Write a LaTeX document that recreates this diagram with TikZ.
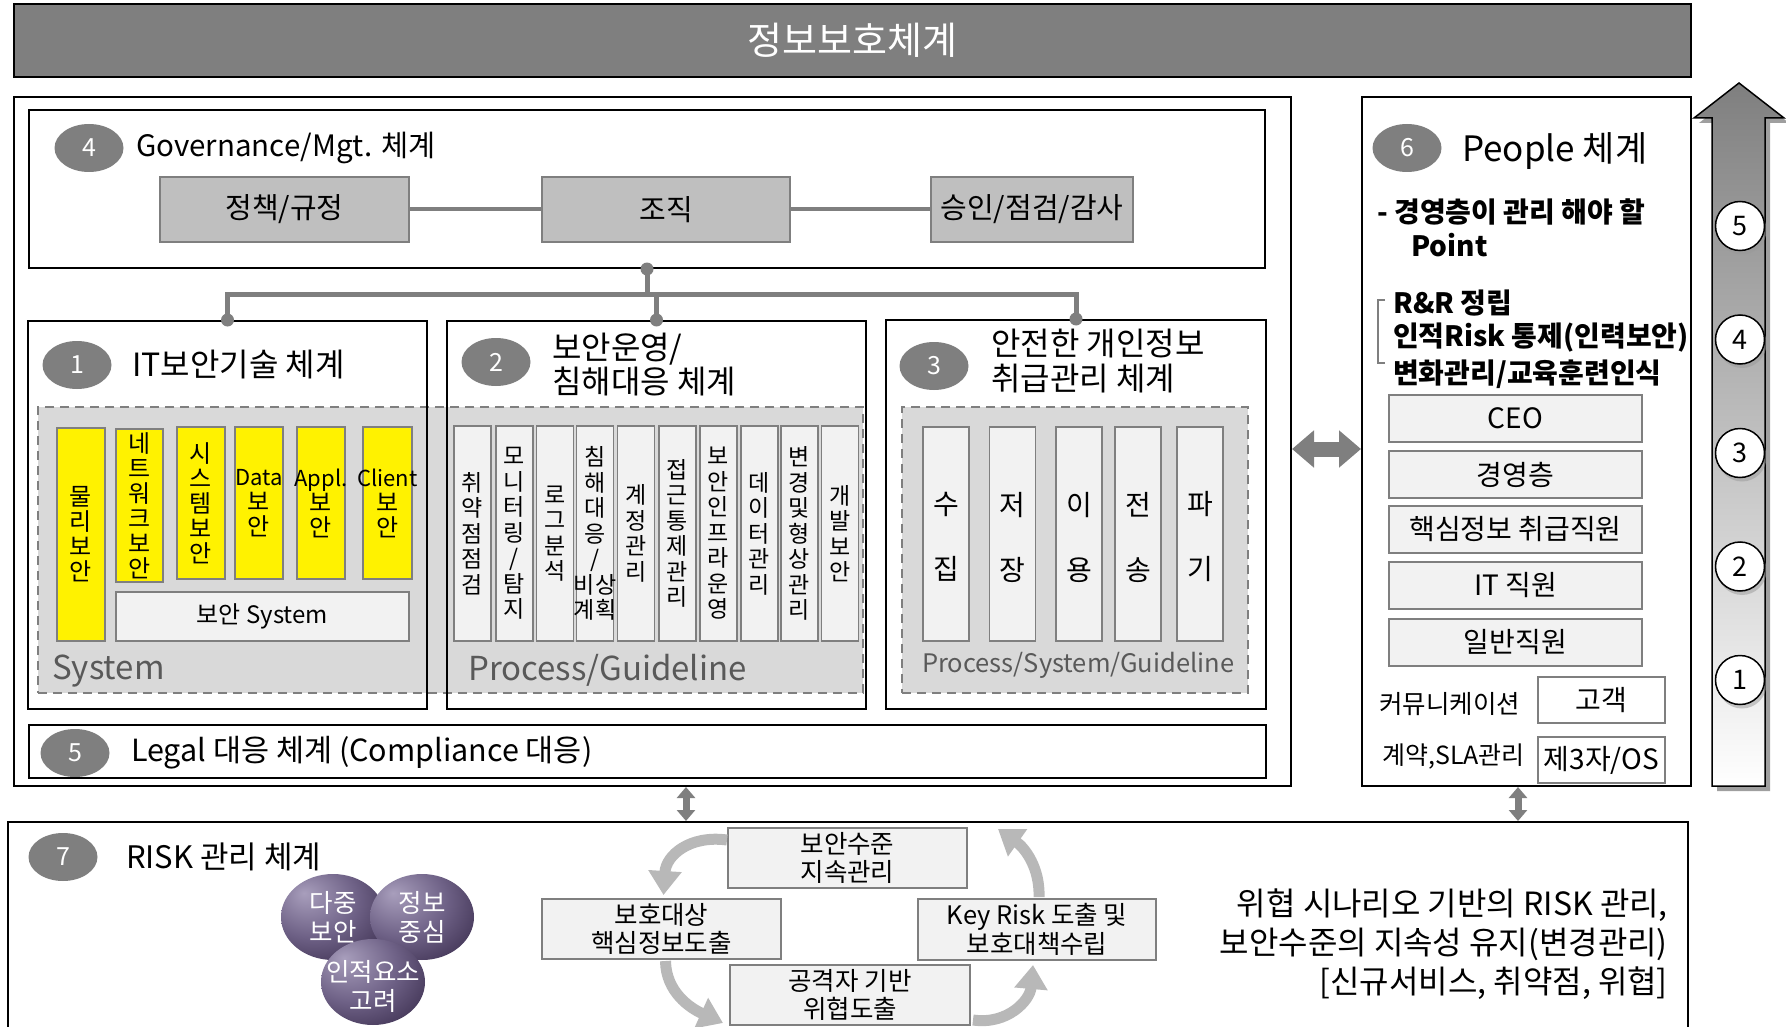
\documentclass[tikz,border=0pt]{standalone}
\usepackage{fontspec}
\setmainfont{Noto Sans CJK KR}
\usetikzlibrary{shapes.geometric,arrows.meta,calc,shadows}
\definecolor{gA}{HTML}{7F7F7F}
\definecolor{gB}{HTML}{BFBFBF}
\definecolor{gC}{HTML}{D9D9D9}
\definecolor{gD}{HTML}{F2F2F2}
\definecolor{gT}{HTML}{595959}
\definecolor{gArr}{HTML}{B8B8B8}
\definecolor{sphA}{HTML}{A89EBC}
\definecolor{sphB}{HTML}{6E6186}
\definecolor{sphC}{HTML}{3A2D4D}
\pgfdeclareradialshading{sph}{\pgfpoint{-14bp}{14bp}}{color(0bp)=(sphA); color(22bp)=(sphB); color(42bp)=(sphC); color(80bp)=(sphC)}
\newcommand\fsz[2]{\fontsize{#1}{#2}\selectfont}
\newcommand\lat[1]{{\fsz{22}{25}#1}}
\tikzset{
  num/.style={ellipse, fill=gA, text=white, minimum width=69pt, minimum height=48pt, inner sep=0pt, font=\fsz{25}{30}},
  hdr/.style={anchor=west, inner sep=0pt, font=\fsz{31}{35}},
  frame/.style={draw=black, line width=2pt, inner sep=0pt},
  gbox/.style={draw=gA, fill=gB, line width=2pt, inner sep=0pt, font=\fsz{29}{32}},
  ycol/.style={draw=gA, fill=yellow, line width=1.5pt, inner sep=0pt},
  gcol/.style={draw=gA, fill=gD, line width=1.5pt, inner sep=0pt},
  ytxt/.style={align=center, inner sep=0pt, font=\fsz{24}{25}},
  ptxt/.style={align=center, inner sep=0pt, font=\fsz{23}{25.5}},
  stxt/.style={align=center, inner sep=0pt, font=\fsz{28}{65}},
  region/.style={draw=gA, fill=gC, dash pattern=on 9pt off 6pt, line width=2.5pt, inner sep=0pt},
  pbox/.style={draw=gA, fill=gD, line width=2pt, inner sep=0pt, font=\fsz{28}{30}},
  wbox/.style={draw=gA, fill=white, line width=2pt, inner sep=0pt, font=\fsz{28}{30}},
  cbox/.style={draw=gA, fill=gD, line width=2pt, inner sep=0pt, align=center, font=\fsz{25.5}{28.5}},
  conn/.style={draw=gA, line width=5pt},
  gline/.style={draw=gA, line width=4pt},
  cdot/.style={circle, fill=gA, minimum size=13pt, inner sep=0pt},
  acirc/.style={circle, draw=black, fill=white, line width=1.5pt, minimum size=49pt, inner sep=0pt, font=\fsz{27}{30}, drop shadow={shadow xshift=2pt, shadow yshift=-4pt, fill=gray!80}},
  sphere/.style={ellipse, minimum width=104pt, minimum height=86pt, shading=sph, inner sep=0pt},
  sptxt/.style={align=center, text=white, inner sep=0pt, font=\fsz{25.5}{29}},
  carrow/.style={draw=gArr, line width=11pt, -{Triangle[width=32pt,length=24pt]}},
  hdbl/.style={draw=gA, line width=15pt, {Triangle[width=36pt,length=22pt]}-{Triangle[width=36pt,length=22pt]}},
  vdbl/.style={draw=gA, line width=7pt, {Triangle[width=18pt,length=11pt]}-{Triangle[width=18pt,length=11pt]}},
  bold/.style={anchor=west, inner sep=0pt, font=\fsz{28}{30}\bfseries}
}
\begin{document}
\begin{tikzpicture}[x=1pt,y=-1pt]
\useasboundingbox (0,0) rectangle (1786,1027);
\clip (0,0) rectangle (1786,1027);

% title bar
\node[frame, fill=gA, minimum width=1677pt, minimum height=73pt] (title) at (852.5,40.5) {};
\node[text=white, font=\fsz{38}{42}] at (title.center) {정보보호체계};

% outer left frame
\node[frame, minimum width=1277pt, minimum height=689pt] (outer) at (652.5,441.5) {};

% governance
\node[frame, minimum width=1236pt, minimum height=158pt] (gov) at (647,189) {};
\node[num] (n4) at (89,148) {4};
\node[hdr, font=\fsz{29.5}{34}] at (136,148) {Governance/Mgt. 체계};
\node[gbox, minimum width=249pt, minimum height=65pt] (g1) at (284.5,209.5) {정책/규정};
\node[gbox, minimum width=248pt, minimum height=65pt] (g2) at (666,209.5) {조직};
\node[gbox, minimum width=202pt, minimum height=65pt] (g3) at (1032,209.5) {승인/점검/감사};
\draw[gline] (g1) -- (g2);
\draw[gline] (g2) -- (g3);

% dashed regions
\node[region, minimum width=825pt, minimum height=286pt] (r12) at (450.5,550) {};
\node[region, minimum width=346pt, minimum height=286pt] (r3) at (1075,550) {};

% three boxes
\node[frame, minimum width=399pt, minimum height=388pt] (b1) at (227.5,515) {};
\node[frame, minimum width=419pt, minimum height=388pt] (b2) at (656.5,515) {};
\node[frame, minimum width=380pt, minimum height=389pt] (b3) at (1076,514.5) {};

% tree connector
\coordinate (bus) at (647,294);
\draw[conn] (gov.south) -- (gov.south |- bus);
\draw[conn] (b1.north) |- (bus) -| (b3.north);
\draw[conn] (b2.north) -- (b2.north |- bus);
\node[cdot] at (gov.south) {};
\node[cdot] at (b1.north) {};
\node[cdot] at (b2.north) {};
\node[cdot] at (b3.north) {};

% box 1
\node[num] (n1) at (77,365) {1};
\node[hdr, font=\fsz{32}{35}] at (132,365) {IT보안기술 체계};
\node[ycol, minimum width=48pt, minimum height=213pt] (y1) at (81,534.5) {};
\node[ycol, minimum width=47pt, minimum height=153pt] (y2) at (139.5,505.5) {};
\node[ycol, minimum width=48pt, minimum height=152pt] (y3) at (201,503) {};
\node[ycol, minimum width=48pt, minimum height=152pt] (y4) at (259,503) {};
\node[ycol, minimum width=48pt, minimum height=152pt] (y5) at (321,503) {};
\node[ycol, minimum width=49pt, minimum height=152pt] (y6) at (387.5,503) {};
\node[ytxt] at (y1.center) {물\\리\\보\\안};
\node[ytxt] at (y2.center) {네\\트\\워\\크\\보\\안};
\node[ytxt] at (y3.center) {시\\스\\템\\보\\안};
\node[ytxt] at (y4.center) {\lat{Data}\\보\\안};
\node[ytxt] at (y5.center) {\lat{Appl.}\\보\\안};
\node[ytxt] at (y6.center) {\lat{Client}\\보\\안};
\node[gcol, minimum width=293pt, minimum height=49pt, font=\fsz{24}{28}] (bs) at (262.5,616.5) {보안 System};
\node[anchor=west, text=gT, inner sep=0pt, font=\fsz{33}{38}] at (52,671) {System};

% box 2
\node[num] (n2) at (496,362) {2};
\node[hdr, align=left, font=\fsz{32}{34}] at (552,365) {보안운영/\\침해대응 체계};
\foreach \nm/\cx/\tx in {p1/472.5/{취\\약\\점\\점\\검}, p2/514.5/{모\\니\\터\\링\\/\\탐\\지}, p3/555/{로\\그\\분\\석}, p4/595/{침\\해\\대\\응\\/\\비상\\계획}, p5/636/{계\\정\\관\\리}, p6/677.5/{접\\근\\통\\제\\관\\리}, p7/718.5/{보\\안\\인\\프\\라\\운\\영}, p8/759.5/{데\\이\\터\\관\\리}, p9/799.5/{변\\경\\및\\형\\상\\관\\리}, p10/840/{개\\발\\보\\안}}{
  \node[gcol, minimum width=37pt, minimum height=215pt] (\nm) at (\cx,533.5) {};
  \node[ptxt] at (\nm.center) {\tx};
}
\node[anchor=west, text=gT, inner sep=0pt, font=\fsz{33}{38}] at (468,670) {Process/Guideline};

% box 3
\node[num] (n3) at (934,366) {3};
\node[hdr, align=left, font=\fsz{32}{35}] at (991,361) {안전한 개인정보\\취급관리 체계};
\foreach \nm/\cx/\tx in {s1/946/{수\\집}, s2/1012.5/{저\\장}, s3/1079/{이\\용}, s4/1138/{전\\송}, s5/1200/{파\\기}}{
  \node[gcol, minimum width=46pt, minimum height=214pt] (\nm) at (\cx,534) {};
  \node[stxt] at ($(\nm.center)+(0,3)$) {\tx};
}
\node[anchor=west, text=gT, inner sep=0pt, font=\fsz{25.5}{30}] at (922,665) {Process/System/Guideline};

% legal
\node[frame, minimum width=1237pt, minimum height=53pt] (legal) at (647.5,751.5) {};
\node[num] (n5) at (75,753) {5};
\node[hdr, font=\fsz{30.5}{34}] at (131,753) {Legal 대응 체계 (Compliance 대응)};

% people
\node[frame, minimum width=329pt, minimum height=689pt] (people) at (1526.5,441.5) {};
\node[num] (n6) at (1407,148) {6};
\node[hdr, font=\fsz{35}{40}] at (1462,151) {People 체계};
\node[bold] at (1377,212) {- 경영층이 관리 해야 할};
\node[bold] at (1411,245) {Point};
\draw[gA, line width=2.5pt] (1385,300) -- (1378,300) -- (1378,363) -- (1385,363);
\node[bold] at (1393,303) {R\&R 정립};
\node[bold] at (1393,338) {인적Risk 통제(인력보안)};
\node[bold] at (1393,374) {변화관리/교육훈련인식};
\node[pbox, minimum width=253pt, minimum height=47pt] (ceo) at (1515.5,418.5) {CEO};
\node[pbox, minimum width=253pt, minimum height=47pt] (mgmt) at (1515.5,474.5) {경영층};
\node[pbox, minimum width=253pt, minimum height=47pt] (core) at (1515.5,529.5) {핵심정보 취급직원};
\node[pbox, minimum width=253pt, minimum height=47pt] (itst) at (1515.5,585) {IT 직원};
\node[pbox, minimum width=253pt, minimum height=47pt] (gen) at (1515.5,642.5) {일반직원};
\node[anchor=west, inner sep=0pt, font=\fsz{25.5}{28}] at (1379,704) {커뮤니케이션};
\node[anchor=west, inner sep=0pt, font=\fsz{25}{28}] at (1382,757) {계약,SLA관리};
\node[wbox, minimum width=127pt, minimum height=46pt] (cust) at (1601.5,700) {고객};
\node[wbox, minimum width=127pt, minimum height=46pt] (third) at (1601.5,760) {제3자/OS};

% horizontal double arrow
\coordinate (ha) at (1327,449);
\draw[hdbl] (outer.east |- ha) -- (people.west |- ha);

% big right arrow
\fill[gray!75, shift={(5,5)}] (1712,786) -- (1712,118) -- (1694,118) -- (1739,83) -- (1784,118) -- (1765,118) -- (1765,786) -- cycle;
\path[draw=black, line width=1.5pt, top color=gA, bottom color=white] (1712,786) -- (1712,118) -- (1694,118) -- (1739,83) -- (1784,118) -- (1765,118) -- (1765,786) -- cycle;
\node[acirc] (a5) at (1740,226) {5};
\node[acirc] (a4) at (1740,339.5) {4};
\node[acirc] (a3) at (1740,453) {3};
\node[acirc] (a2) at (1740,566.5) {2};
\node[acirc] (a1) at (1740,680) {1};

% risk box
\node[frame, minimum width=1680pt, minimum height=228pt] (risk) at (848,936) {};
\coordinate (va1) at (686,800);
\coordinate (va2) at (1518,800);
\draw[vdbl] (va1 |- outer.south) -- (va1 |- risk.north);
\draw[vdbl] (va2 |- people.south) -- (va2 |- risk.north);
\node[num] (n7) at (63,857) {7};
\node[hdr] at (126,857) {RISK 관리 체계};

% spheres
\node[sphere] (sp1) at (333,917) {};
\node[sphere] (sp2) at (422,917) {};
\node[sphere] (sp3) at (373,982) {};
\node[sptxt] at (sp1.center) {다중\\보안};
\node[sptxt] at (sp2.center) {정보\\중심};
\node[sptxt] at ($(sp3.center)+(0,4)$) {인적요소\\고려};

% cycle
\node[cbox, minimum width=239pt, minimum height=60pt] (cT) at (847.5,858) {보안수준\\지속관리};
\node[cbox, minimum width=239pt, minimum height=60pt] (cL) at (661.5,929) {보호대상\\핵심정보도출};
\node[cbox, minimum width=240pt, minimum height=60pt] (cB) at (850,995) {공격자 기반\\위협도출};
\node[cbox, minimum width=238pt, minimum height=61pt] (cR) at (1037,929.5) {Key Risk 도출 및\\보호대책수립};
\draw[carrow] ($(cT.north west)+(0,13)$) .. controls (690,835) and (666,855) .. ($(cL.north)+(2,-3)$);
\draw[carrow] ($(cL.south)+(4,1)$) .. controls (666,992) and (690,1008) .. ($(cB.west)+(-6,28)$);
\draw[carrow] ($(cB.east)+(2,25)$) .. controls (1008,1025) and (1030,1000) .. ($(cR.south)+(-4,4)$);
\draw[carrow] ($(cR.north)+(2,-1)$) .. controls (1040,868) and (1025,848) .. ($(cT.north east)+(30,2)$);

% right text
\node[anchor=east, align=right, inner sep=0pt, font=\fsz{32}{39}] at (1668,944) {위협 시나리오 기반의 RISK 관리,\\보안수준의 지속성 유지(변경관리)\\{[}신규서비스, 취약점, 위협{]}};
\end{tikzpicture}
\end{document}
